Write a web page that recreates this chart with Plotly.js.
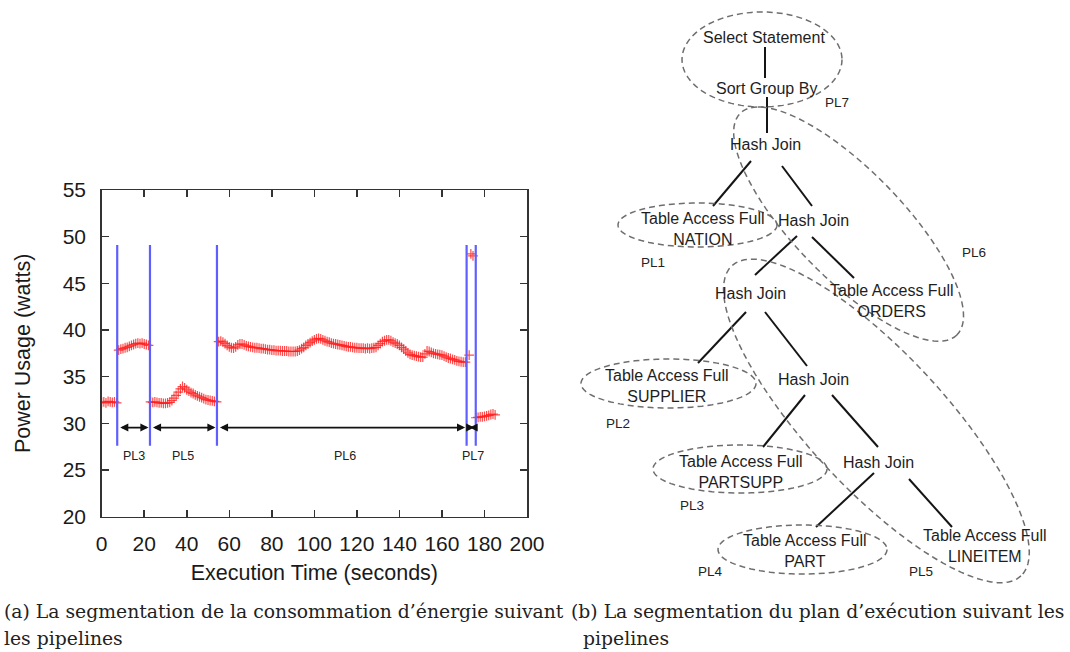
<!DOCTYPE html>
<html>
<head>
<meta charset="utf-8">
<script src="https://cdn.plot.ly/plotly-3.0.1.min.js"></script>
<style>
  html, body { margin: 0; padding: 0; background: #ffffff; }
  #fig { width: 1070px; height: 652px; }
</style>
</head>
<body>
<div id="fig"></div>
<script>
// ---------- (a) power trace, sampled about once per second ----------
const timeSec = [
  0, 1, 2, 3, 4, 5, 6, 7,
  8, 9, 10, 11, 12, 13, 14, 15, 16, 17, 18, 19, 20, 21, 22,
  23, 24, 25, 26, 27, 28, 29, 30, 31, 32, 33, 34, 35, 36, 37, 38, 39, 40,
  41, 42, 43, 44, 45, 46, 47, 48, 49, 50, 51, 52, 53, 54,
  55, 56, 57, 58, 59, 60, 61, 62, 63, 64, 65, 66, 67, 68, 69, 70,
  71, 72, 73, 74, 75, 76, 77, 78, 79, 80, 81, 82, 83, 84, 85, 86, 87, 88, 89, 90,
  91, 92, 93, 94, 95, 96, 97, 98, 99, 100, 101, 102, 103, 104, 105, 106, 107, 108, 109, 110,
  111, 112, 113, 114, 115, 116, 117, 118, 119, 120, 121, 122, 123, 124, 125, 126, 127, 128, 129, 130,
  131, 132, 133, 134, 135, 136, 137, 138, 139, 140, 141, 142, 143, 144, 145, 146, 147, 148, 149, 150,
  151, 152, 153, 154, 155, 156, 157, 158, 159, 160, 161, 162, 163, 164, 165, 166, 167, 168, 169, 170,
  171,
  172.8, 173.6, 174.6,
  176, 177, 178, 179, 180, 181, 182, 183, 184, 185
];
const powerWatts = [
  32.25, 32.3, 32.2, 32.35, 32.3, 32.25, 32.3, 32.2,
  37.85, 37.95, 38.0, 38.1, 38.15, 38.25, 38.35, 38.45, 38.55, 38.6, 38.55, 38.6, 38.5, 38.45, 38.35,
  32.3, 32.25, 32.3, 32.25, 32.2, 32.2, 32.15, 32.15, 32.2, 32.25, 32.45, 32.7, 33.0, 33.35, 33.7, 33.95, 33.8, 33.6,
  33.45, 33.3, 33.2, 33.05, 32.95, 32.85, 32.75, 32.65, 32.55, 32.5, 32.45, 32.4, 32.35, 32.3,
  38.75, 38.8, 38.7, 38.55, 38.35, 38.2, 38.1, 38.05, 38.2, 38.4, 38.5, 38.5, 38.4, 38.3, 38.25, 38.2,
  38.15, 38.1, 38.1, 38.05, 38.0, 38.0, 37.95, 37.9, 37.9, 37.85, 37.85, 37.8, 37.8, 37.8, 37.75, 37.75, 37.75, 37.7, 37.7, 37.7,
  37.7, 37.75, 37.85, 38.0, 38.15, 38.35, 38.5, 38.65, 38.8, 38.95, 39.05, 39.1, 39.05, 38.95, 38.85, 38.75, 38.7, 38.6, 38.55, 38.5,
  38.45, 38.4, 38.35, 38.3, 38.25, 38.2, 38.2, 38.15, 38.1, 38.1, 38.05, 38.05, 38.05, 38.0, 38.05, 38.0, 38.05, 38.1, 38.15, 38.35,
  38.55, 38.75, 38.85, 38.95, 38.95, 38.85, 38.7, 38.6, 38.5, 38.35, 38.15, 37.95, 37.75, 37.55, 37.4, 37.3, 37.25, 37.2, 37.15, 37.1,
  37.1, 37.45, 37.75, 37.7, 37.6, 37.5, 37.45, 37.4, 37.35, 37.3, 37.2, 37.1, 37.0, 36.95, 36.85, 36.8, 36.7, 36.65, 36.6, 36.55,
  36.55,
  37.3, 48.15, 47.95,
  30.6, 30.65, 30.7, 30.7, 30.75, 30.8, 30.85, 30.95, 31.0, 30.9
];

// pipeline boundaries (seconds) and the pipeline spanning each interval
const pipelineBounds = [7.3, 22.7, 54.2, 171.6, 175.9];
const pipelineSpans = ['PL3', 'PL5', 'PL6', 'PL7'];
const spanLabelTime = [15.3, 38.1, 114.4, 174.8];

const xTickVals = [0, 20, 40, 60, 80, 100, 120, 140, 160, 180, 200];
const yTickVals = [20, 25, 30, 35, 40, 45, 50, 55];

// ---------- (b) execution plan tree ----------
const planLabels = [
  'Select Statement', 'Sort Group By', 'Hash Join',
  'Table Access Full<br>NATION', 'Hash Join', 'Hash Join',
  'Table Access Full<br>ORDERS', 'Table Access Full<br>SUPPLIER', 'Hash Join',
  'Table Access Full<br>PARTSUPP', 'Hash Join', 'Table Access Full<br>PART',
  'Table Access Full<br>LINEITEM'
];
const planEdges = [[0, 1], [1, 2], [2, 3], [2, 4], [4, 5], [4, 6], [5, 7], [5, 8], [8, 9], [8, 10], [10, 11], [10, 12]];
const pipelineNames = ['PL1', 'PL2', 'PL3', 'PL4', 'PL5', 'PL6', 'PL7'];

const captionA = ['(a) La segmentation de la consommation d\u2019énergie suivant', 'les pipelines'];
const captionB = ['(b) La segmentation du plan d\u2019exécution suivant les', 'pipelines'];

// ---------- diagram layout (pixel space of the page) ----------
const nodePos = [
  [764, 37], [766, 88], [765, 144], [703, 229], [813, 220], [750, 293],
  [892, 301], [667, 386], [813, 379], [741, 472], [878, 462], [805, 551], [985, 546]
];
const edgeEnds = [
  [[765, 47], [765, 78]], [[767, 97], [767, 133]],
  [[751, 161], [713, 206]], [[782, 166], [812, 206]],
  [[797, 236], [755, 275]], [[812, 237], [854, 278]],
  [[746, 312], [698, 363]], [[765, 312], [807, 366]],
  [[805, 395], [763, 447]], [[832, 395], [878, 447]],
  [[874, 473], [816, 527]], [[909, 479], [952, 527]]
];
const groupOutline = [
  { cx: 697.5, cy: 225, a: 79.5, b: 22, rot: 0 },
  { cx: 668.5, cy: 383.5, a: 87.5, b: 24.5, rot: 0 },
  { cx: 740, cy: 469, a: 87, b: 24, rot: 0 },
  { cx: 802.5, cy: 549.5, a: 84.5, b: 24.5, rot: 0 },
  { cx: 876.4, cy: 420.9, a: 212, b: 68, rot: 47 },
  { cx: 848.6, cy: 224.1, a: 155, b: 54, rot: 45.7 },
  { cx: 762, cy: 59.5, a: 80, b: 47.5, rot: 0 }
];
const groupLabelPos = [[653, 262], [618, 423], [692, 505], [710, 571], [921, 571], [974, 252], [837, 102]];

const W = 1070, H = 652;
const sans = 'Liberation Sans, Arial, sans-serif';
const serif = 'DejaVu Serif, serif';

function ellipsePath(e) {
  const r = e.rot * Math.PI / 180, c = Math.cos(r), s = Math.sin(r);
  const pts = [];
  for (let i = 0; i < 96; i++) {
    const t = i / 96 * 2 * Math.PI;
    const ex = e.a * Math.cos(t), ey = e.b * Math.sin(t);
    pts.push((e.cx + ex * c - ey * s).toFixed(2) + ',' + (e.cy + ex * s + ey * c).toFixed(2));
  }
  return 'M' + pts.join('L') + 'Z';
}

const traces = [];

// power samples
traces.push({
  type: 'scatter', mode: 'markers', x: timeSec, y: powerWatts,
  xaxis: 'x', yaxis: 'y', hoverinfo: 'x+y',
  marker: { symbol: 'cross-thin-open', size: 7, color: 'rgba(255,30,30,0.8)',
    line: { color: 'rgba(255,30,30,0.8)', width: 1.2 } }
});

// tree edges
const ex = [], ey = [];
edgeEnds.forEach(([p, q]) => { ex.push(p[0], q[0], null); ey.push(p[1], q[1], null); });
traces.push({
  type: 'scatter', mode: 'lines', x: ex, y: ey, xaxis: 'x2', yaxis: 'y2',
  line: { color: '#151515', width: 2 }, hoverinfo: 'skip'
});

const shapes = [];
const annotations = [];

// pipeline boundaries
pipelineBounds.forEach(t => {
  shapes.push({ type: 'line', xref: 'x', yref: 'y', x0: t, x1: t, y0: 27.6, y1: 49.1,
    line: { color: 'rgb(95,95,255)', width: 2.2 } });
});

// double-headed span arrows and labels
pipelineSpans.forEach((name, i) => {
  annotations.push({
    xref: 'x', yref: 'y', axref: 'x', ayref: 'y',
    x: pipelineBounds[i + 1], y: 29.55, ax: pipelineBounds[i], ay: 29.55,
    text: '', showarrow: true, arrowside: 'end+start', arrowhead: 2, arrowsize: 0.9,
    arrowwidth: 1.8, arrowcolor: '#111', standoff: 1.5, startstandoff: 1.5
  });
  annotations.push({
    xref: 'x', yref: 'y', x: spanLabelTime[i], y: 26.5, text: name, showarrow: false,
    font: { family: sans, size: 12.5, color: '#222' }
  });
});

// plan outlines
groupOutline.forEach(e => {
  shapes.push({ type: 'path', xref: 'x2', yref: 'y2', path: ellipsePath(e),
    line: { color: '#6e6e6e', width: 1.5, dash: '6px,4px' } });
});

// plan node labels
planLabels.forEach((lab, i) => {
  annotations.push({
    xref: 'x2', yref: 'y2', x: nodePos[i][0], y: nodePos[i][1], text: lab, showarrow: false,
    font: { family: sans, size: 16, color: '#1e1e1e' }
  });
});
pipelineNames.forEach((lab, i) => {
  annotations.push({
    xref: 'x2', yref: 'y2', x: groupLabelPos[i][0], y: groupLabelPos[i][1], text: lab, showarrow: false,
    font: { family: sans, size: 13.5, color: '#222' }
  });
});

// captions
function caption(txt, px, py) {
  annotations.push({
    xref: 'paper', yref: 'paper', x: px / W, y: 1 - py / H, xanchor: 'left', yanchor: 'middle',
    text: txt, showarrow: false, font: { family: serif, size: 18.8, color: '#222' }
  });
}
caption(captionA[0], 2, 611);
caption(captionA[1], 2, 638);
caption(captionB[0], 569, 611);
caption(captionB[1], 581, 638);

const axisCommon = {
  showline: true, linecolor: '#333', linewidth: 1.5, mirror: 'allticks',
  ticks: 'inside', ticklen: 7, tickwidth: 1.5, tickcolor: '#333',
  showgrid: false, zeroline: false, fixedrange: true,
  tickfont: { family: sans, size: 21, color: '#1a1a1a' }
};

const layout = {
  width: W, height: H,
  margin: { l: 0, r: 0, t: 0, b: 0 },
  paper_bgcolor: '#ffffff', plot_bgcolor: 'rgba(0,0,0,0)',
  showlegend: false,
  xaxis: Object.assign({}, axisCommon, {
    domain: [101.7 / W, 527 / W], anchor: 'y', range: [0, 200], tickvals: xTickVals,
    ticklabelstandoff: 8,
    title: { text: 'Execution Time (seconds)', font: { family: sans, size: 21.5, color: '#1a1a1a' }, standoff: 10 }
  }),
  yaxis: Object.assign({}, axisCommon, {
    domain: [1 - 516.7 / H, 1 - 190 / H], anchor: 'x', range: [20, 55], tickvals: yTickVals,
    ticklabelstandoff: 10,
    title: { text: 'Power Usage (watts)', font: { family: sans, size: 21.5, color: '#1a1a1a' }, standoff: 26 }
  }),
  xaxis2: { domain: [0, 1], anchor: 'y2', range: [0, W], visible: false, fixedrange: true },
  yaxis2: { domain: [0, 1], anchor: 'x2', range: [H, 0], visible: false, fixedrange: true },
  shapes: shapes,
  annotations: annotations
};

Plotly.newPlot('fig', traces, layout, { displayModeBar: false, staticPlot: true });
</script>
</body>
</html>
